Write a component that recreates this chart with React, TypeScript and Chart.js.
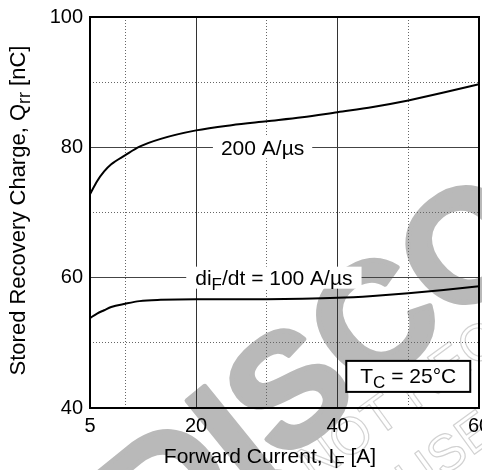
import React, { useEffect, useRef } from "react";
import { Chart, registerables } from "chart.js";

Chart.register(...registerables);

// ---- data ----
const FORWARD_CURRENT = [5, 6, 7, 8, 10, 12, 15, 20, 25, 30, 35, 40, 45, 50, 55, 60];
const QRR_200 = [72.8, 74.8, 76.3, 77.4, 78.8, 80.1, 81.3, 82.6, 83.4, 84.0, 84.6, 85.4, 86.2, 87.2, 88.4, 89.7];
const QRR_100 = [53.8, 54.5, 55.0, 55.5, 56.0, 56.4, 56.6, 56.7, 56.7, 56.7, 56.75, 56.9, 57.2, 57.6, 58.1, 58.7];

const X_GRID = [5, 10, 20, 30, 40, 50, 60];
const X_LABELS = [5, 20, 40, 60];
const X_SOLID = [20, 40];
const Y_LABELS = [40, 60, 80, 100];
const Y_SOLID = [60, 80];

const LABEL_200 = { x: 29.4, y: 80, text: "200 A/\u00b5s" };
const LABEL_100 = { x: 31.0, y: 60 };
const TC_POS = { x: 50, y: 44.85 };

const FONT = '"Liberation Sans", Arial, Helvetica, sans-serif';
const WATERMARK = "DISCONTINUED";
const WATERMARK2 = "IC NOT RECOMMENDED";
const WATERMARK3 = "USE";

type Part = { t: string; sub?: boolean };

function drawRich(
  ctx: CanvasRenderingContext2D,
  parts: Part[],
  x: number,
  y: number,
  size: number,
  align: "center" | "left" = "center"
) {
  const subSize = Math.round(size * 0.8);
  const widths = parts.map((p) => {
    ctx.font = `${p.sub ? subSize : size}px ${FONT}`;
    return ctx.measureText(p.t).width;
  });
  const total = widths.reduce((a, b) => a + b, 0);
  let cx = align === "center" ? x - total / 2 : x;
  ctx.textAlign = "left";
  ctx.textBaseline = "alphabetic";
  parts.forEach((p, i) => {
    ctx.font = `${p.sub ? subSize : size}px ${FONT}`;
    ctx.fillText(p.t, cx, y + (p.sub ? 5 : 0));
    cx += widths[i];
  });
  return total;
}

function measureRich(ctx: CanvasRenderingContext2D, parts: Part[], size: number) {
  const subSize = Math.round(size * 0.8);
  let w = 0;
  parts.forEach((p) => {
    ctx.font = `${p.sub ? subSize : size}px ${FONT}`;
    w += ctx.measureText(p.t).width;
  });
  return w;
}

// draws rotated text so that the character at index `anchor` is centred on (cx, cy)
function drawAnchored(
  ctx: CanvasRenderingContext2D,
  text: string,
  anchor: number,
  cx: number,
  cy: number,
  font: string,
  size: number,
  angDeg: number,
  mode: "fill" | "stroke" | "both"
) {
  ctx.save();
  ctx.font = font;
  const pre = ctx.measureText(text.slice(0, anchor)).width + ctx.measureText(text[anchor]).width / 2;
  ctx.translate(cx, cy);
  ctx.rotate((angDeg * Math.PI) / 180);
  ctx.textAlign = "left";
  ctx.textBaseline = "alphabetic";
  ctx.lineJoin = "round";
  if (mode !== "stroke") ctx.fillText(text, -pre, 0.358 * size);
  if (mode !== "fill") ctx.strokeText(text, -pre, 0.358 * size);
  ctx.restore();
}

const backgroundPlugin = {
  id: "bgWatermark",
  beforeDraw(chart: any) {
    const { ctx, width, height } = chart;
    ctx.save();
    ctx.fillStyle = "#ffffff";
    ctx.fillRect(0, 0, width, height);
    // faint secondary watermark (outlined)
    ctx.strokeStyle = "#d2d2d2";
    ctx.lineWidth = 1.2;
    drawAnchored(ctx, WATERMARK2, 4, 350, 435, `52px ${FONT}`, 52, -36, "stroke");
    drawAnchored(ctx, WATERMARK3, 1, 446, 452, `52px ${FONT}`, 52, -36, "stroke");
    // main watermark
    ctx.fillStyle = "#b9b9b9";
    ctx.strokeStyle = "#b9b9b9";
    ctx.lineWidth = 5;
    drawAnchored(ctx, WATERMARK, 3, 372, 318, `bold 158px ${FONT}`, 158, -39, "both");
    ctx.restore();
  },
};

const annotationPlugin = {
  id: "annotations",
  afterDatasetsDraw(chart: any) {
    const { ctx, chartArea, scales } = chart;
    const xs = scales.x;
    const ys = scales.y;
    ctx.save();

    // frame
    ctx.strokeStyle = "#000";
    ctx.lineWidth = 2;
    ctx.strokeRect(chartArea.left, chartArea.top, chartArea.right - chartArea.left, chartArea.bottom - chartArea.top);

    ctx.fillStyle = "#000";
    const size = 21;

    // 200 A/us label
    {
      const parts: Part[] = [{ t: LABEL_200.text }];
      const w = measureRich(ctx, parts, size);
      const px = xs.getPixelForValue(LABEL_200.x);
      const py = ys.getPixelForValue(LABEL_200.y);
      ctx.fillStyle = "#fff";
      ctx.fillRect(px - w / 2 - 8, py - 11, w + 16, 22);
      ctx.fillStyle = "#000";
      drawRich(ctx, parts, px, py + 7.5, size);
    }
    // di/dt = 100 A/us label
    {
      const parts: Part[] = [{ t: "di" }, { t: "F", sub: true }, { t: "/dt = 100 A/\u00b5s" }];
      const w = measureRich(ctx, parts, size);
      const px = xs.getPixelForValue(LABEL_100.x);
      const py = ys.getPixelForValue(LABEL_100.y);
      ctx.fillStyle = "#fff";
      ctx.fillRect(px - w / 2 - 9, py - 11, w + 18, 22);
      ctx.fillStyle = "#000";
      drawRich(ctx, parts, px, py + 7.5, size);
    }
    // Tc box
    {
      const parts: Part[] = [{ t: "T" }, { t: "C", sub: true }, { t: " = 25\u00b0C" }];
      const w = measureRich(ctx, parts, size);
      const px = xs.getPixelForValue(TC_POS.x);
      const py = ys.getPixelForValue(TC_POS.y);
      const bw = w + 28;
      const bh = 31;
      ctx.fillStyle = "#fff";
      ctx.fillRect(px - bw / 2, py - bh / 2, bw, bh);
      ctx.lineWidth = 2;
      ctx.strokeStyle = "#000";
      ctx.strokeRect(px - bw / 2, py - bh / 2, bw, bh);
      ctx.fillStyle = "#000";
      drawRich(ctx, parts, px, py + 7, size);
    }

    // axis titles
    ctx.fillStyle = "#000";
    drawRich(
      ctx,
      [{ t: "Forward Current, I" }, { t: "F", sub: true }, { t: " [A]" }],
      270,
      463,
      21
    );
    ctx.save();
    ctx.translate(25, 210.5);
    ctx.rotate(-Math.PI / 2);
    drawRich(
      ctx,
      [{ t: "Stored Recovery Charge, Q" }, { t: "rr", sub: true }, { t: " [nC]" }],
      0,
      0,
      22
    );
    ctx.restore();

    ctx.restore();
  },
};

export default function App() {
  const ref = useRef<HTMLCanvasElement | null>(null);

  useEffect(() => {
    if (!ref.current) return;
    const chart = new Chart(ref.current, {
      type: "line",
      data: {
        datasets: [
          {
            label: "200 A/\u00b5s",
            data: FORWARD_CURRENT.map((x, i) => ({ x, y: QRR_200[i] })),
            borderColor: "#000",
            borderWidth: 2,
            pointRadius: 0,
            cubicInterpolationMode: "monotone",
            fill: false,
          },
          {
            label: "100 A/\u00b5s",
            data: FORWARD_CURRENT.map((x, i) => ({ x, y: QRR_100[i] })),
            borderColor: "#000",
            borderWidth: 2,
            pointRadius: 0,
            cubicInterpolationMode: "monotone",
            fill: false,
          },
        ],
      },
      options: {
        responsive: false,
        animation: false,
        layout: { padding: { top: 17, right: 3, left: 0, bottom: 0 } },
        plugins: {
          legend: { display: false },
          tooltip: { enabled: false },
          title: { display: false },
        },
        scales: {
          x: {
            type: "linear",
            min: 5,
            max: 60,
            afterBuildTicks: (scale: any) => {
              scale.ticks = X_GRID.map((v) => ({ value: v }));
            },
            afterFit: (scale: any) => {
              scale.height = 62;
              scale.paddingLeft = 0;
              scale.paddingRight = 0;
            },
            ticks: {
              autoSkip: false,
              maxRotation: 0,
              padding: 6,
              color: "#000",
              font: { family: FONT, size: 20 },
              callback: (v: any) => (X_LABELS.includes(Number(v)) ? String(v) : ""),
            },
            grid: {
              drawTicks: false,
              lineWidth: 1,
              color: (c: any) => (c.tick && X_SOLID.includes(c.tick.value) ? "#333" : "#666"),
            },
            border: {
              display: false,
              dash: (c: any) => (c.tick && !X_SOLID.includes(c.tick.value) ? [1, 2] : []),
            },
          },
          y: {
            type: "linear",
            min: 40,
            max: 100,
            afterBuildTicks: (scale: any) => {
              const t = [];
              for (let v = 40; v <= 100; v += 10) t.push({ value: v });
              scale.ticks = t;
            },
            afterFit: (scale: any) => {
              scale.width = 90;
              scale.paddingTop = 0;
              scale.paddingBottom = 0;
            },
            ticks: {
              autoSkip: false,
              padding: 7,
              color: "#000",
              font: { family: FONT, size: 20 },
              callback: (v: any) => (Y_LABELS.includes(Number(v)) ? String(v) : ""),
            },
            grid: {
              drawTicks: false,
              lineWidth: 1,
              color: (c: any) => (c.tick && Y_SOLID.includes(c.tick.value) ? "#444" : "#666"),
            },
            border: {
              display: false,
              dash: (c: any) => (c.tick && !Y_SOLID.includes(c.tick.value) ? [1, 2] : []),
            },
          },
        },
      },
      plugins: [backgroundPlugin, annotationPlugin],
    } as any);
    return () => chart.destroy();
  }, []);

  return (
    <div style={{ position: "fixed", left: 0, top: 0, width: 482, height: 470, background: "#fff" }}>
      <canvas ref={ref} width={482} height={470} style={{ display: "block", width: 482, height: 470 }} />
    </div>
  );
}
